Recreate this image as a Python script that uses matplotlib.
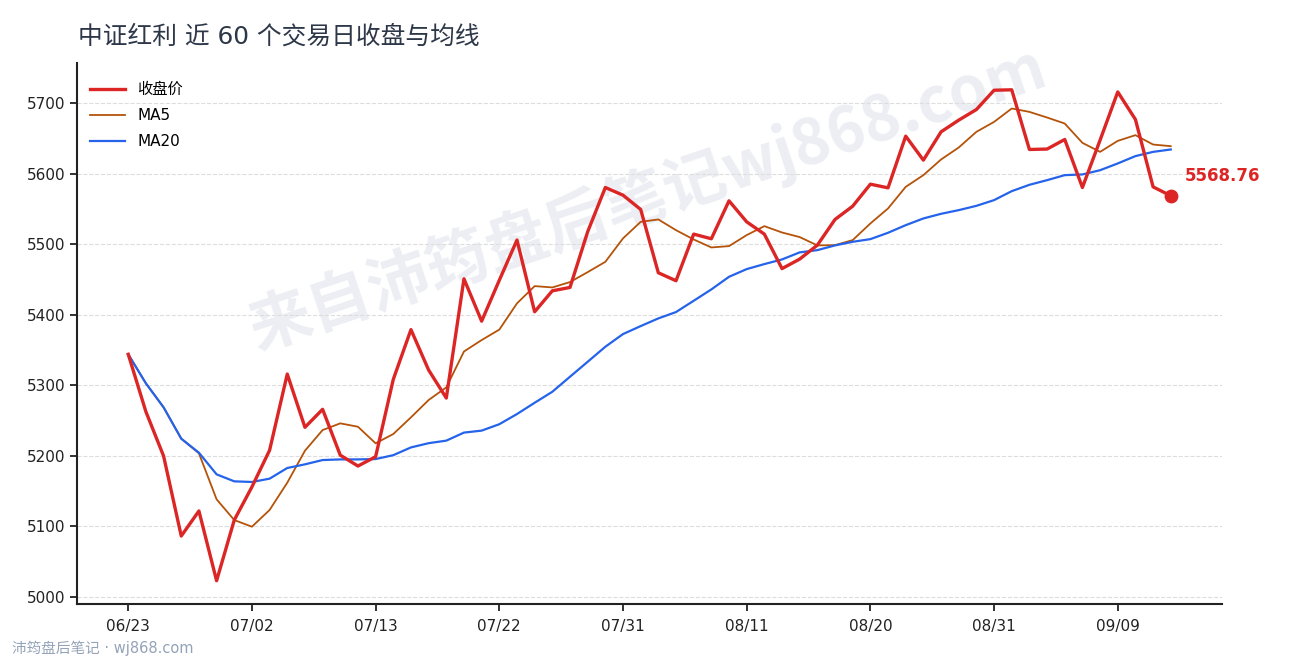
import matplotlib
matplotlib.use('Agg')
import matplotlib.pyplot as plt

plt.rcParams['font.family'] = ['DejaVu Sans', 'Noto Sans CJK SC']

# closing prices, 60 trading days
close = [5344.0, 5262.6, 5199.8, 5086.4, 5121.9, 5023.0, 5109.0, 5156.0, 5208.0, 5316.0,
         5240.5, 5266.0, 5201.0, 5185.6, 5198.8, 5308.5, 5379.0, 5321.7, 5282.0, 5451.0,
         5391.0, 5449.0, 5506.0, 5404.3, 5434.0, 5438.8, 5517.7, 5580.5, 5569.6, 5549.4,
         5459.6, 5448.3, 5514.4, 5507.8, 5561.6, 5531.8, 5514.4, 5465.5, 5479.0, 5498.8,
         5535.2, 5554.0, 5585.2, 5580.0, 5653.3, 5619.3, 5659.4, 5676.0, 5691.0, 5718.4,
         5719.0, 5634.4, 5635.0, 5648.6, 5580.5, 5647.6, 5716.0, 5677.0, 5581.4, 5568.76]

ma5 = [5344.0, 5302.8, 5268.8, 5224.4, 5203.6, 5138.4, 5109.0, 5099.6, 5123.3, 5162.0,
       5207.3, 5236.6, 5246.1, 5241.3, 5217.8, 5231.0, 5254.6, 5279.2, 5297.1, 5348.0,
       5364.2, 5379.0, 5416.2, 5440.7, 5438.8, 5446.4, 5460.5, 5475.1, 5508.3, 5531.8,
       5535.2, 5520.0, 5506.8, 5495.5, 5497.4, 5513.0, 5525.7, 5516.7, 5510.2, 5498.4,
       5498.8, 5505.9, 5529.5, 5550.8, 5581.4, 5598.0, 5620.2, 5637.2, 5659.4, 5673.5,
       5692.5, 5687.7, 5679.7, 5671.2, 5643.8, 5631.0, 5646.6, 5654.7, 5641.4, 5639.1]

ma20 = [5344.0, 5302.8, 5268.8, 5224.4, 5204.5, 5173.8, 5163.9, 5163.0, 5167.7, 5182.8,
        5188.0, 5194.1, 5195.0, 5195.0, 5195.5, 5201.0, 5212.0, 5218.0, 5221.6, 5233.0,
        5235.8, 5244.9, 5259.3, 5275.3, 5290.9, 5312.2, 5333.4, 5354.7, 5372.7, 5384.0,
        5394.9, 5403.9, 5419.9, 5436.0, 5453.9, 5464.8, 5471.9, 5478.5, 5488.5, 5491.7,
        5498.4, 5503.5, 5507.3, 5516.3, 5527.1, 5536.6, 5543.2, 5548.4, 5554.5, 5562.6,
        5575.3, 5584.3, 5590.9, 5598.0, 5599.0, 5605.0, 5614.6, 5625.0, 5631.0, 5634.4]

tick_pos = [0, 7, 14, 21, 28, 35, 42, 49, 56]
tick_labels = ['06/23', '07/02', '07/13', '07/22', '07/31', '08/11', '08/20', '08/31', '09/09']

days = list(range(len(close)))

fig = plt.figure(figsize=(12.9, 6.6), dpi=100)
ax = fig.add_axes([77/1290, 1 - 604/660, (1222 - 77)/1290, (604 - 63)/660])

ax.plot(days, close, color='#dc2626', lw=2.4, label='收盘价', zorder=4)
ax.plot(days, ma5, color='#b45309', lw=1.3, label='MA5', zorder=3)
ax.plot(days, ma20, color='#2563eb', lw=1.6, label='MA20', zorder=3)

ax.scatter([days[-1]], [close[-1]], s=80, color='#dc2626', zorder=5)
ax.annotate(f'{close[-1]:.2f}', (days[-1], close[-1]), xytext=(10, 14),
            textcoords='offset points', va='center', ha='left',
            color='#dc2626', fontsize=12, fontweight='bold')

ax.set_xlim(-2.9, 61.9)
ax.set_ylim(4990, 5757)
ax.set_xticks(tick_pos)
ax.set_xticklabels(tick_labels)
ax.set_yticks(range(5000, 5701, 100))
ax.tick_params(labelsize=11, length=5, width=1.3, colors='#222222')
ax.tick_params(axis='x', pad=6)

ax.grid(axis='y', ls='--', color='#dddddd', lw=0.8)
ax.set_axisbelow(True)
for s in ['top', 'right']:
    ax.spines[s].set_visible(False)
for s in ['left', 'bottom']:
    ax.spines[s].set_linewidth(1.5)
    ax.spines[s].set_color('#222222')

ax.legend(loc='upper left', bbox_to_anchor=(0.006, 0.976), frameon=False, fontsize=11,
          handlelength=2.3, labelspacing=0.72, handletextpad=0.8, borderaxespad=0)

# watermark
ax.text(0.498, 0.75, '来自沛筠盘后笔记wj868.com', transform=ax.transAxes,
        rotation=18.5, ha='center', va='center', fontsize=45, fontweight='bold',
        color='#eceef3', zorder=0, family=['Noto Sans CJK SC', 'DejaVu Sans'])

fig.text(78/1290, 1 - 37/660, '中证红利 近 60 个交易日收盘与均线', fontsize=17.8,
         color='#2d3748', va='center', ha='left')
fig.text(12/1290, 1 - 648/660, '沛筠盘后笔记 · wj868.com', fontsize=10.5,
         color='#94a3b8', va='center', ha='left')

fig.savefig('out.png', dpi=100)
